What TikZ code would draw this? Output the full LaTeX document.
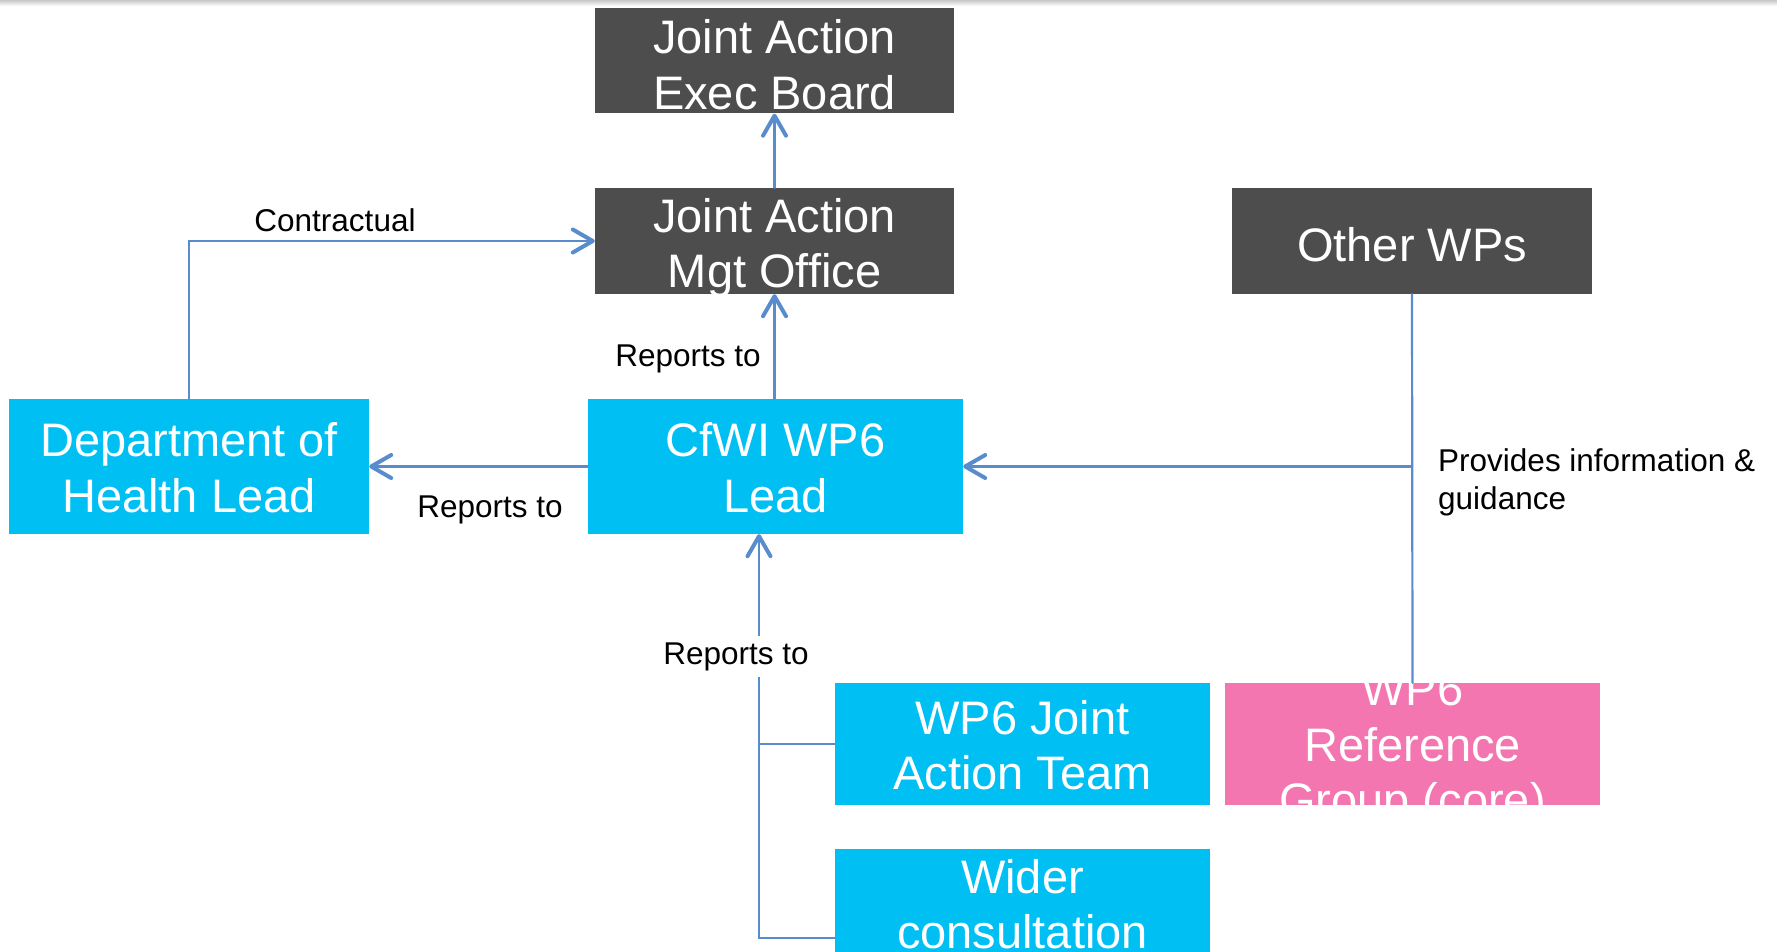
\documentclass[tikz,border=0pt]{standalone}
\usepackage{fontspec}
\setmainfont{Liberation Sans}
\usetikzlibrary{arrows.meta}

\definecolor{boxgray}{RGB}{77,77,77}
\definecolor{boxcyan}{RGB}{0,191,243}
\definecolor{boxpink}{RGB}{244,118,177}
\definecolor{linkblue}{RGB}{88,140,205}

\tikzset{
  box/.style={rectangle, inner sep=0pt},
  darkbox/.style={box, fill=boxgray},
  leadbox/.style={box, fill=boxcyan},
  refbox/.style={box, fill=boxpink},
  boxtext/.style={inner sep=0pt, text=white, align=center,
    font=\fontsize{47}{55.5}\selectfont},
  link/.style={draw=linkblue, line width=2.2pt, line cap=round},
  arr/.style={link, -{Straight Barb[length=20pt,width=23pt,line width=4pt,round]}},
  lbl/.style={text=black, inner sep=1pt, font=\fontsize{31.5}{37.4}\selectfont}
}

\begin{document}
\begin{tikzpicture}[x=1pt,y=-1pt]
  \useasboundingbox (0,0) rectangle (1777,952);
  % faint shadow along the top edge
  \shade[top color=black!22, bottom color=white] (0,0) rectangle (1777,6);

  % boxes
  \node[darkbox, minimum width=359pt, minimum height=105pt] (exec) at (774.5,61) {};
  \node[darkbox, minimum width=359pt, minimum height=106pt] (mgt) at (774.5,241) {};
  \node[darkbox, minimum width=360pt, minimum height=106pt] (other) at (1412,241) {};
  \node[leadbox, minimum width=360pt, minimum height=135pt] (dept) at (189,466.5) {};
  \node[leadbox, minimum width=375pt, minimum height=135pt] (cfwi) at (775.5,466.5) {};
  \node[leadbox, minimum width=375pt, minimum height=122pt] (jat) at (1022.5,744) {};
  \node[refbox, minimum width=375pt, minimum height=122pt] (ref) at (1412.5,744) {};
  \node[leadbox, minimum width=375pt, minimum height=122pt] (wider) at (1022.5,910) {};

  % box captions (yshift is measured upwards on the page)
  \node[boxtext] (exec-t) at ([yshift=-3.5pt]exec.center) {Joint Action\\Exec Board};
  \node[boxtext] (mgt-t) at ([yshift=-7pt]mgt.center) {Joint Action\\Mgt Office};
  \node[boxtext] (other-t) at ([yshift=-3.5pt]other.center) {Other WPs};
  \node[boxtext] (dept-t) at ([yshift=-1pt]dept.center) {Department of\\Health Lead};
  \node[boxtext] (cfwi-t) at ([yshift=-1pt]cfwi.center) {CfWI WP6\\Lead};
  \node[boxtext] (jat-t) at ([yshift=-1pt]jat.center) {WP6 Joint\\Action Team};
  \begin{scope}
    \clip (ref.south west) rectangle (ref.north east);
    \node[boxtext] (ref-t) at ([yshift=-5.5pt]ref.center) {WP6\\Reference\\Group (core)};
  \end{scope}
  \node[boxtext] (wider-t) at ([yshift=6pt]wider.center) {Wider\\consultation};

  % connectors
  \draw[arr] (mgt.north) -- (exec.south);
  \draw[arr] (dept.north) |- (mgt.west);
  \draw[arr] (cfwi.north -| mgt.south) -- (mgt.south);
  \draw[arr] (cfwi.west) -- (dept.east);
  \draw[link] (other.south) -- (ref.north);
  \draw[arr] (other.south |- cfwi.east) -- (cfwi.east);

  \coordinate (bus) at (759,938);
  \draw[link] (bus) -- (bus -| wider.west);
  \draw[link] (jat.west) -- (jat.west -| bus);
  \draw[arr] (bus) -- (bus |- cfwi.south);

  % labels
  \node[lbl] (lcontract) at (335,220) {Contractual};
  \node[lbl] (lrepmgt) at (688,359) {Reports to};
  \node[lbl] (lrepdept) at (490,509.5) {Reports to};
  \node[lbl, anchor=west, align=left] (lprovides) at (1437,482.5) {Provides information \&\\guidance};
  \node[lbl, fill=white, inner sep=6pt] (lrepbus) at (736,656.5) {Reports to};
\end{tikzpicture}
\end{document}
